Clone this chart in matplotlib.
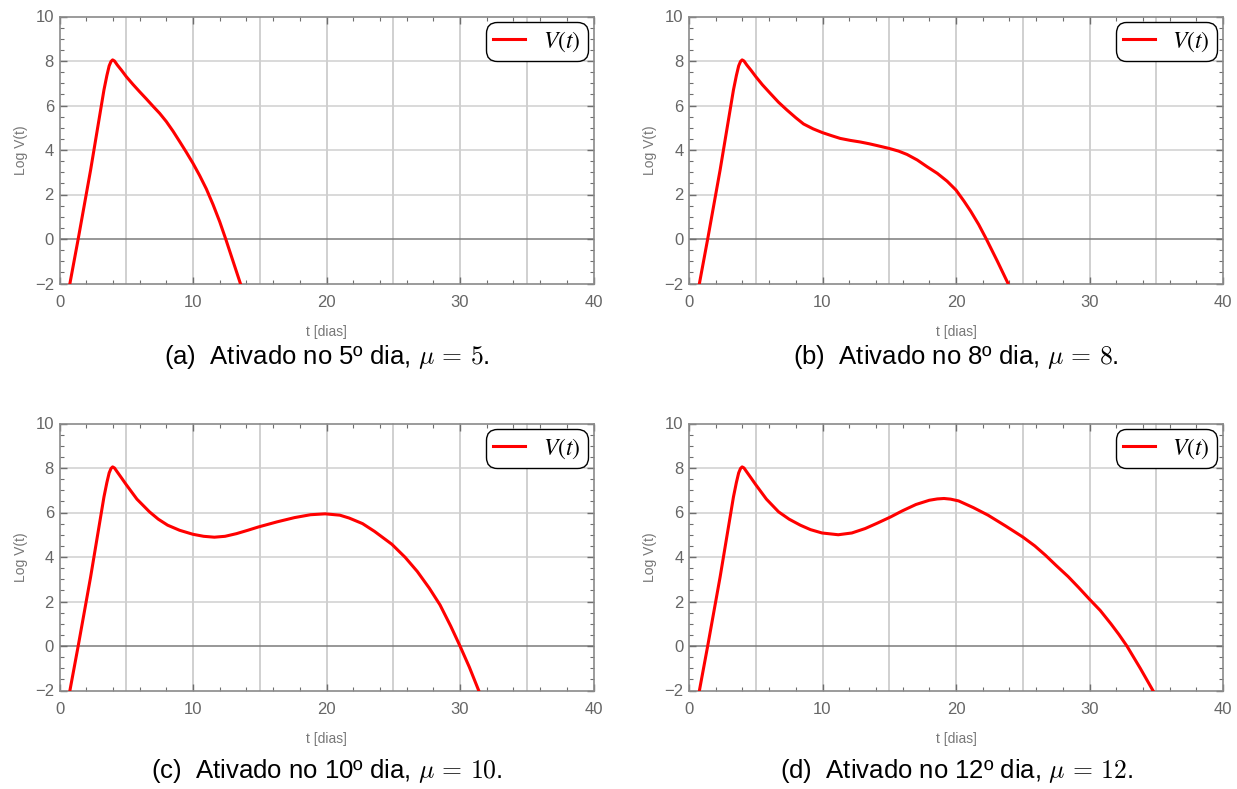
import numpy as np
import matplotlib
matplotlib.use("Agg")
from matplotlib import pyplot as plt
from matplotlib.font_manager import FontProperties

plt.rcParams['font.family'] = ['Liberation Sans', 'DejaVu Sans']
plt.rcParams['mathtext.fontset'] = 'cm'

# curves: t in days, Log V(t)
t_a = [0.78, 1.4, 2.33, 3.33, 3.55, 3.72, 3.86, 3.98, 4.12, 4.33, 4.65, 5.0, 5.5, 6.0,
       6.5, 7.0, 7.5, 8.0, 8.5, 9.0, 9.5, 10.0, 10.5, 11.0, 11.5, 12.0, 12.45,
       13.0, 13.55]
v_a = [-2, 0, 3.1, 6.7, 7.35, 7.78, 7.98, 8.05, 8.0, 7.82, 7.58, 7.3, 6.95, 6.62,
       6.3, 5.97, 5.65, 5.28, 4.85, 4.38, 3.9, 3.4, 2.85, 2.25, 1.55, 0.78, 0,
       -1.0, -2]

t_b = [0.78, 1.4, 2.33, 3.33, 3.55, 3.72, 3.86, 3.98, 4.12, 4.33, 4.65, 5.0, 5.5,
       6.08, 6.7, 7.33, 8.0, 8.58, 9.3, 10.0, 10.7, 11.33, 12.1, 12.83, 13.5,
       14.08, 15.0, 15.7, 16.33, 17.1, 17.83, 18.6, 19.33, 20.0, 20.6, 21.1,
       21.7, 22.27, 23.1, 23.9]
v_b = [-2, 0, 3.1, 6.7, 7.35, 7.78, 7.98, 8.05, 8.0, 7.82, 7.58, 7.3, 6.93,
       6.55, 6.15, 5.8, 5.45, 5.17, 4.95, 4.78, 4.64, 4.52, 4.43, 4.36, 4.28,
       4.2, 4.07, 3.95, 3.8, 3.55, 3.25, 2.95, 2.6, 2.2, 1.7, 1.25,
       0.65, 0, -1.0, -2]

t_c = [0.78, 1.4, 2.33, 3.33, 3.55, 3.72, 3.86, 3.98, 4.12, 4.33, 4.65, 5.0, 5.8,
       6.74, 7.4, 8.1, 9.0, 10.0, 10.8, 11.6, 12.4, 13.26, 14.1, 14.9, 16.3,
       17.6, 18.8, 19.9, 21.0, 21.7, 22.7, 23.6, 24.9, 25.9, 26.8, 27.7, 28.5,
       29.3, 30.0, 30.7, 31.4]
v_c = [-2, 0, 3.1, 6.7, 7.35, 7.78, 7.98, 8.05, 8.0, 7.82, 7.55, 7.25, 6.6,
       6.03, 5.7, 5.43, 5.2, 5.02, 4.93, 4.89, 4.93, 5.05, 5.2, 5.35, 5.58,
       5.77, 5.9, 5.94, 5.88, 5.75, 5.5, 5.15, 4.57, 3.98, 3.35, 2.6, 1.85,
       0.9, 0, -0.95, -2]

t_d = [0.78, 1.4, 2.33, 3.33, 3.55, 3.72, 3.86, 3.98, 4.12, 4.33, 4.65, 5.0, 5.8,
       6.71, 7.5, 8.34, 9.1, 9.96, 11.18, 12.2, 13.2, 14.1, 15.1, 16.0, 17.0,
       18.0, 18.6, 19.1, 19.6, 20.2, 21.3, 22.4, 23.7, 25.0, 25.9, 26.7, 27.5,
       28.4, 29.2, 30.0, 30.8, 31.6, 32.2, 32.8, 33.8, 34.75]
v_d = [-2, 0, 3.1, 6.7, 7.35, 7.78, 7.98, 8.05, 8.0, 7.82, 7.55, 7.25, 6.6,
       6.03, 5.7, 5.43, 5.23, 5.08, 5.0, 5.08, 5.28, 5.52, 5.8, 6.08, 6.36,
       6.55, 6.61, 6.63, 6.6, 6.52, 6.22, 5.88, 5.4, 4.9, 4.5, 4.08, 3.62,
       3.12, 2.62, 2.1, 1.6, 1.0, 0.52, 0, -1.0, -2]

captions = [r"(a)  Ativado no 5º dia, $\mu\,=\,5$.",
            r"(b)  Ativado no 8º dia, $\mu\,=\,8$.",
            r"(c)  Ativado no 10º dia, $\mu\,=\,10$.",
            r"(d)  Ativado no 12º dia, $\mu\,=\,12$."]
series = [(t_a, v_a), (t_b, v_b), (t_c, v_c), (t_d, v_d)]

W, H = 1237, 789
fig = plt.figure(figsize=(W / 100, H / 100), dpi=100)

# axes boxes in pixels: left, top
boxes = [(59.5, 16.5), (689, 16.5), (59.5, 423.5), (689, 423.5)]
aw, ah = 534, 267
cap_y = [357, 357, 771, 771]

for i, (left, top) in enumerate(boxes):
    ax = fig.add_axes([left / W, 1 - (top + ah) / H, aw / W, ah / H])
    tt, vv = series[i]

    for x in range(5, 40, 5):
        ax.axvline(x, color='#c4c4c4', lw=1.1, zorder=0)
    for y in [2, 4, 6, 8]:
        ax.axhline(y, color='#cfcfcf', lw=1.1, zorder=0)
    ax.axhline(0, color='#7a7a7a', lw=1.1, zorder=1)

    ax.plot(tt, vv, color='#ff0000', lw=2.2, label=r'$V(t)$', zorder=3,
            solid_joinstyle='round')

    ax.set_xlim(0, 40)
    ax.set_ylim(-2, 10)
    ax.set_xticks(np.arange(0, 41, 10))
    ax.set_xticks(np.arange(0, 41, 2), minor=True)
    ax.set_yticks(np.arange(-2, 11, 2))
    ax.set_yticks(np.arange(-2, 10.1, 0.5), minor=True)
    ax.tick_params(which='both', direction='in', top=True, right=True,
                   colors='#6e6e6e', labelcolor='#666666')
    ax.tick_params(which='major', length=5, width=1, labelsize=12)
    ax.tick_params(axis='x', which='major', pad=8)
    ax.tick_params(axis='y', which='major', pad=4)
    ax.tick_params(which='minor', length=2.8, width=0.8)
    for s in ax.spines.values():
        s.set_color('#8a8a8a')
        s.set_linewidth(1.2)

    ax.set_xlabel('t [dias]', fontsize=10, color='#777777', labelpad=11)
    ax.set_ylabel('Log V(t)', fontsize=10, color='#777777', labelpad=5)

    leg = ax.legend(loc='upper right', prop=FontProperties(size=17, math_fontfamily='stix'),
                    fancybox=True, framealpha=1, edgecolor='black',
                    handlelength=1.35, borderpad=0.3, borderaxespad=0.25,
                    handletextpad=0.75)
    leg.get_frame().set_linewidth(1.0)
    leg.get_frame().set_boxstyle('round', pad=0.0, rounding_size=0.45)

    fig.text((left + aw / 2) / W, 1 - cap_y[i] / H, captions[i], fontsize=18.5,
             ha='center', va='center', color='black')

plt.savefig('out.png', dpi=100)
